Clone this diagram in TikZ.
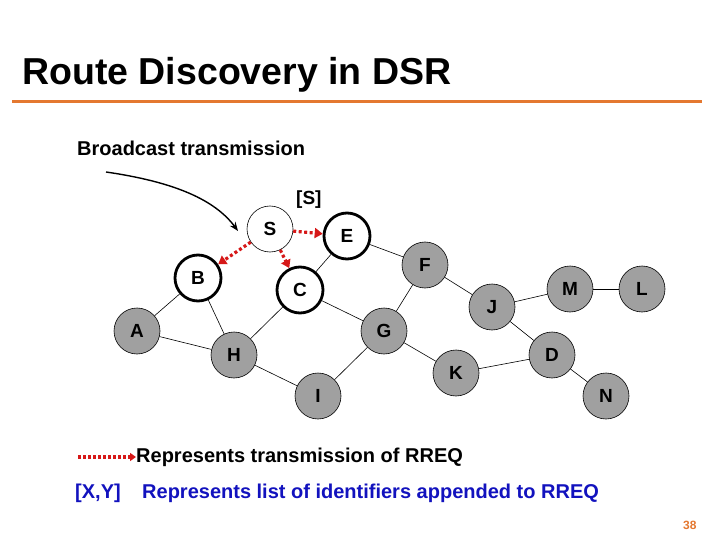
\documentclass[tikz,border=0pt]{standalone}
\usepackage{fontspec}
\setmainfont{Liberation Sans}
\usetikzlibrary{arrows.meta}
\definecolor{slideorange}{RGB}{228,120,48}
\definecolor{rreqred}{RGB}{214,24,24}
\definecolor{listblue}{RGB}{18,18,190}
\definecolor{nodegray}{RGB}{160,160,160}
\tikzset{
  host/.style={circle,draw,minimum size=46pt,inner sep=0pt,font=\fontsize{19}{21}\selectfont\bfseries},
  idle/.style={host,fill=nodegray,line width=0.6pt},
  heard/.style={host,fill=white,line width=2.8pt},
  source/.style={host,fill=white,line width=0.6pt},
  link/.style={line width=0.6pt},
  rreq/.style={rreqred,line width=3.2pt,dash pattern=on 3pt off 2.5pt,-{Triangle[length=8pt,width=10pt]}},
  txt/.style={inner sep=0pt,anchor=base west,font=\fontsize{20}{23}\selectfont\bfseries}
}
\begin{document}
\begin{tikzpicture}[x=1pt,y=-1pt]
\useasboundingbox (0,0) rectangle (720,540);

\node[inner sep=0pt,anchor=base west,font=\fontsize{37.5}{40}\selectfont\bfseries] (title) at (22,85) {Route Discovery in DSR};
\draw[slideorange,line width=3pt] (12,102) -- (702,102);

\node[txt] (bcasttext) at (77,156) {Broadcast transmission};
\node[txt,font=\fontsize{19}{21}\selectfont\bfseries] (slist) at (296,205) {[S]};

\node[source] (S) at (270,229) {S};
\node[heard] (E) at (347,236) {E};
\node[heard] (B) at (198,278) {B};
\node[heard] (C) at (300,290) {C};
\node[idle] (F) at (425,265) {F};
\node[idle] (A) at (137,331) {A};
\node[idle] (H) at (234,355) {H};
\node[idle] (G) at (384,331) {G};
\node[idle] (I) at (318,396) {I};
\node[idle] (K) at (456,373) {K};
\node[idle] (J) at (492,307) {J};
\node[idle] (M) at (570,289) {M};
\node[idle] (L) at (642,289) {L};
\node[idle] (D) at (552,355) {D};
\node[idle] (N) at (606,396) {N};

\draw[link] (A)--(B);
\draw[link] (B)--(H);
\draw[link] (A)--(H);
\draw[link] (C)--(E);
\draw[link] (C)--(H);
\draw[link] (C)--(G);
\draw[link] (E)--(F);
\draw[link] (F)--(G);
\draw[link] (F)--(J);
\draw[link] (G)--(I);
\draw[link] (G)--(K);
\draw[link] (H)--(I);
\draw[link] (J)--(M);
\draw[link] (M)--(L);
\draw[link] (J)--(D);
\draw[link] (K)--(D);
\draw[link] (D)--(N);

\draw[rreq] (S)--(E);
\draw[rreq] (S)--(B);
\draw[rreq] (S)--(C);

\coordinate (bcast) at (106,172);
\coordinate (bcastend) at (238,231);
\draw[line width=1.4pt,-{Stealth[length=9pt,width=7pt]}] (bcast) .. controls (175,182) and (215,200) .. (bcastend);

\node[txt] (rreqtext) at (136,462) {Represents transmission of RREQ};
\coordinate (rreqtail) at (78,457);
\draw[rreq,dash pattern=on 3pt off 2pt,-{Triangle[length=6pt,width=8pt]}] (rreqtail) -- (rreqtail -| rreqtext.west);

\node[txt,listblue] (xy) at (75,498) {[X,Y]};
\node[txt,listblue] (listtext) at (142,498) {Represents list of identifiers appended to RREQ};

\node[inner sep=0pt,anchor=base west,slideorange,font=\fontsize{12}{14}\selectfont\bfseries] (pageno) at (683,529) {38};
\end{tikzpicture}
\end{document}
